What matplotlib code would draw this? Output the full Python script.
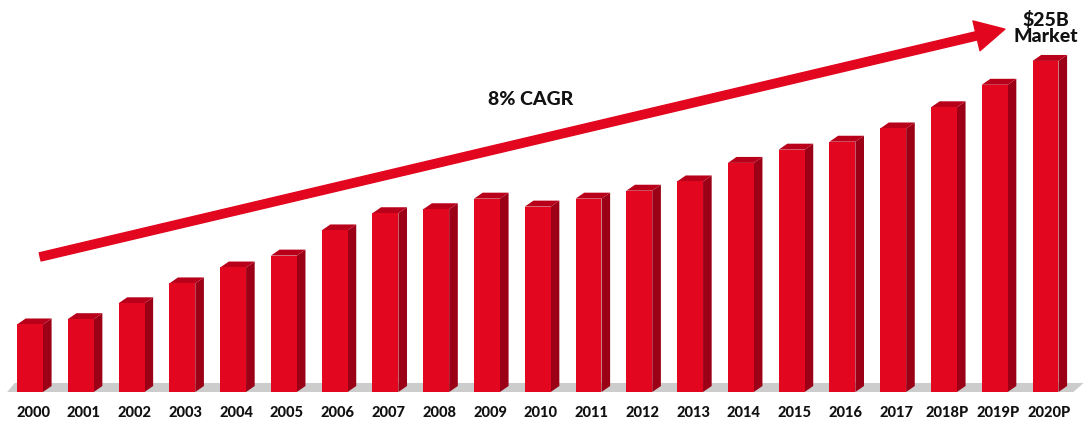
import matplotlib.pyplot as plt
from matplotlib.patches import Polygon

# market size by year ($B)
years = ['2000', '2001', '2002', '2003', '2004', '2005', '2006', '2007', '2008', '2009',
         '2010', '2011', '2012', '2013', '2014', '2015', '2016', '2017', '2018P', '2019P', '2020P']
values = [5.1, 5.5, 6.7, 8.2, 9.4, 10.3, 12.2, 13.5, 13.8, 14.6,
          14.0, 14.6, 15.2, 15.9, 17.3, 18.3, 18.9, 19.9, 21.5, 23.2, 25.0]

front = '#e2061e'
side = '#9c0016'
top = '#b8001a'

fig = plt.figure(figsize=(10.9, 4.28), dpi=100)
ax = fig.add_axes([0, 0, 1, 1])
ax.set_xlim(-0.591, 20.876)
ax.set_ylim(-2.72, 29.6)
ax.axis('off')

w = 0.51
dx, dy = 0.17, 0.45

# floor shadow
ax.add_patch(Polygon([(-0.45, 0), (20.55, 0), (20.75, 0.68), (-0.3, 0.68)],
                     closed=True, color='#cccccc', lw=0, zorder=1))

xs = list(range(len(years)))
ax.bar(xs, values, width=w, color=front, zorder=3)
for x, v in zip(xs, values):
    l, r = x - w / 2, x + w / 2
    ax.add_patch(Polygon([(r, 0), (r + dx, dy), (r + dx, v + dy), (r, v)],
                         closed=True, color=side, lw=0, zorder=2))
    ax.add_patch(Polygon([(l, v), (l + dx, v + dy), (r + dx, v + dy), (r, v)],
                         closed=True, color=top, lw=0, zorder=2))

for x, lab in zip(xs, years):
    ax.text(x + 0.06, -1.59, lab, ha='center', va='center', fontsize=10.5,
            fontweight='black', family='Lato', color='#111111')

# CAGR arrow
ax.annotate('', xy=(19.2, 27.4), xytext=(0.2, 10.2),
            arrowprops=dict(color=front, width=6, headwidth=22, headlength=21, shrink=0),
            zorder=4)
ax.text(9.85, 22.1, '8% CAGR', ha='center', va='center', fontsize=14,
        fontweight='black', family='Lato', color='#111111')
ax.text(20.0, 27.5, '$25B\nMarket', ha='center', va='center', fontsize=14,
        fontweight='black', family='Lato', color='#111111', linespacing=0.95)

fig.savefig('out.png', dpi=100)
